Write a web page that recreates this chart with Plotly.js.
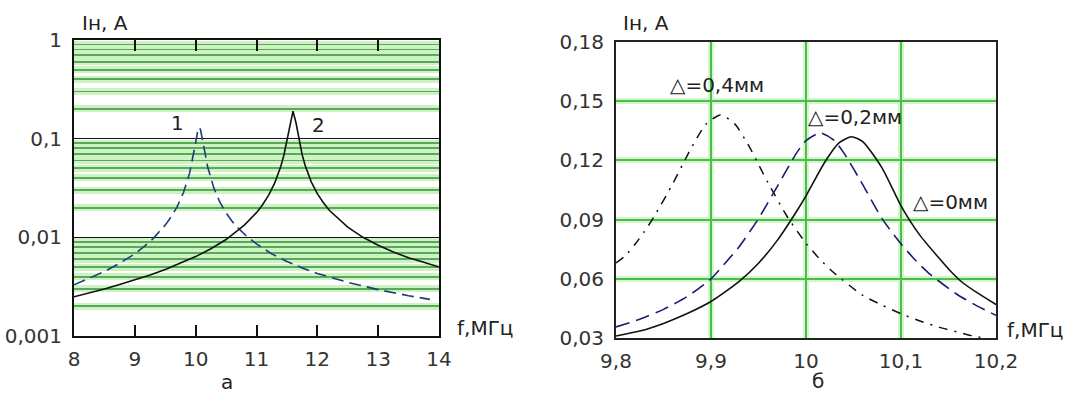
<!DOCTYPE html>
<html>
<head>
<meta charset="utf-8">
<script src="https://cdn.plot.ly/plotly-3.0.1.min.js"></script>
<style>html,body{margin:0;padding:0;background:#fff;}#chart{width:1071px;height:396px;}</style>
</head>
<body>
<div id="chart"></div>
<script>
// ---- Left chart (a): log scale, f 8..14 MHz
const leftXTicks = [8, 9, 10, 11, 12, 13, 14];
const leftYTicks = [0.001, 0.01, 0.1, 1];
const leftYTickText = ['0,001', '0,01', '0,1', '1'];
const leftYMinor = [0.002,0.003,0.004,0.005,0.006,0.007,0.008,0.009,
                    0.02,0.03,0.04,0.05,0.06,0.07,0.08,0.09,
                    0.2,0.3,0.4,0.5,0.6,0.7,0.8,0.9];

// curve 1 (dashed)
const c1X = [8, 8.25, 8.5, 8.75, 9, 9.15, 9.3, 9.5, 9.6, 9.7, 9.8, 9.9, 9.95, 9.98, 10, 10.03, 10.045, 10.06, 10.08, 10.1, 10.12, 10.15, 10.2, 10.3, 10.4, 10.5, 10.6, 10.7, 10.85, 11, 11.25, 11.5, 11.75, 12, 12.25, 12.5, 13, 13.25, 13.5, 13.85];
const c1Y = [0.0033, 0.00383, 0.0045, 0.00546, 0.0068, 0.00804, 0.0097, 0.0133, 0.0162, 0.0207, 0.0285, 0.0447, 0.0613, 0.077, 0.091, 0.116, 0.126, 0.13, 0.123, 0.1075, 0.0914, 0.0718, 0.051, 0.0315, 0.0226, 0.0177, 0.0145, 0.0124, 0.0101, 0.0086, 0.0068, 0.0057, 0.0049, 0.0043, 0.00386, 0.0035, 0.00295, 0.00274, 0.00256, 0.00235];

// curve 2 (solid)
const c2X = [8, 8.25, 8.5, 8.75, 9, 9.25, 9.5, 9.75, 10, 10.25, 10.5, 10.8, 11, 11.1, 11.2, 11.3, 11.35, 11.4, 11.45, 11.5, 11.55, 11.6, 11.65, 11.7, 11.75, 11.8, 11.85, 11.9, 12, 12.1, 12.2, 12.5, 12.75, 13, 13.25, 13.5, 13.75, 14];
const c2Y = [0.0025, 0.00273, 0.003, 0.00333, 0.0037, 0.00416, 0.00472, 0.00544, 0.00638, 0.00766, 0.0095, 0.0133, 0.0178, 0.0214, 0.0268, 0.0356, 0.0425, 0.0526, 0.068, 0.0954, 0.144, 0.19, 0.144, 0.096, 0.0689, 0.0535, 0.0433, 0.0365, 0.0277, 0.0224, 0.0187, 0.0127, 0.0100, 0.0083, 0.0071, 0.0062, 0.0056, 0.0050];

// ---- Right chart (б): linear, f 9.8..10.2 MHz
const rightXTicks = [9.8, 9.9, 10.0, 10.1, 10.2];
const rightXTickText = ['9,8', '9,9', '10', '10,1', '10,2'];
const rightYTicks = [0.03, 0.06, 0.09, 0.12, 0.15, 0.18];
const rightYTickText = ['0,03', '0,06', '0,09', '0,12', '0,15', '0,18'];

// Δ = 0 mm (solid)
const d0X = [9.8, 9.825, 9.85, 9.875, 9.9, 9.91, 9.93, 9.95, 9.97, 9.99, 10.0, 10.02, 10.035, 10.048, 10.06, 10.08, 10.1, 10.12, 10.14, 10.15, 10.165, 10.18, 10.2];
const d0Y = [0.031, 0.0335, 0.0374, 0.0424, 0.0485, 0.0517, 0.0588, 0.0679, 0.0796, 0.0941, 0.102, 0.1193, 0.129, 0.132, 0.1294, 0.1162, 0.097, 0.082, 0.0705, 0.065, 0.058, 0.053, 0.047];

// Δ = 0.2 mm (dashed)
const d2X = [9.8, 9.825, 9.85, 9.875, 9.9, 9.915, 9.93, 9.95, 9.97, 9.99, 10.0, 10.015, 10.03, 10.04, 10.06, 10.08, 10.1, 10.115, 10.13, 10.16, 10.18, 10.2];
const d2Y = [0.0356, 0.0395, 0.0445, 0.051, 0.06, 0.068, 0.0765, 0.0905, 0.107, 0.1237, 0.13, 0.134, 0.13, 0.1237, 0.1075, 0.0905, 0.0777, 0.0695, 0.0625, 0.0518, 0.0463, 0.0415];

// Δ = 0.4 mm (dash-dot)
const d4X = [9.8, 9.81, 9.82, 9.83, 9.84, 9.86, 9.87, 9.88, 9.895, 9.91, 9.925, 9.94, 9.95, 9.96, 9.98, 10.0, 10.015, 10.03, 10.06, 10.08, 10.1, 10.12, 10.14, 10.17, 10.2];
const d4Y = [0.068, 0.0718, 0.0775, 0.084, 0.0914, 0.1084, 0.1178, 0.127, 0.1385, 0.143, 0.1385, 0.1272, 0.118, 0.1087, 0.0917, 0.078, 0.0697, 0.0628, 0.0515, 0.0467, 0.0423, 0.0386, 0.0355, 0.0317, 0.0286];

const FONT = 'DejaVu Sans, Arial, sans-serif';
const tickFont = {family: FONT, size: 20, color: '#333'};

const traces = [
  {x: c1X, y: c1Y, xaxis: 'x', yaxis: 'y', mode: 'lines', line: {color: '#1f3c78', width: 1.6, dash: '12px,6px'}, hoverinfo: 'skip'},
  {x: c2X, y: c2Y, xaxis: 'x', yaxis: 'y', mode: 'lines', line: {color: '#111', width: 1.6}, hoverinfo: 'skip'},
  // helper trace so the overlay grid axis exists (single point, no visible mark)
  {x: [leftXTicks[0]], y: [leftYTicks[0]], xaxis: 'x', yaxis: 'y3', mode: 'lines', hoverinfo: 'skip', line: {width: 0}},
  {x: d4X, y: d4Y, xaxis: 'x2', yaxis: 'y2', mode: 'lines', line: {color: '#111', width: 1.5, dash: '9px,7px,2px,7px', shape: 'spline', smoothing: 0.6}, hoverinfo: 'skip'},
  {x: d2X, y: d2Y, xaxis: 'x2', yaxis: 'y2', mode: 'lines', line: {color: '#1c1c70', width: 1.6, dash: '14px,7px', shape: 'spline', smoothing: 0.6}, hoverinfo: 'skip'},
  {x: d0X, y: d0Y, xaxis: 'x2', yaxis: 'y2', mode: 'lines', line: {color: '#111', width: 1.6, shape: 'spline', smoothing: 0.6}, hoverinfo: 'skip'},
  {x: [rightXTicks[0]], y: [rightYTicks[0]], xaxis: 'x4', yaxis: 'y4', mode: 'lines', hoverinfo: 'skip', line: {width: 0}}
];

const ann = (text, x, y, xanchor, size) => ({text: text, x: x, y: y, xref: 'paper', yref: 'paper', xanchor: xanchor || 'left', yanchor: 'middle', showarrow: false, font: {family: FONT, size: size || 20, color: '#222'}});

const layout = {
  width: 1071, height: 396,
  margin: {l: 0, r: 0, t: 0, b: 0},
  paper_bgcolor: '#fff', plot_bgcolor: '#fff',
  showlegend: false,
  xaxis: {
    domain: [74/1071, 439/1071], anchor: 'y', range: [8, 14],
    tickmode: 'array', tickvals: leftXTicks, ticktext: leftXTicks.map(String),
    ticks: 'inside', ticklen: 11, tickwidth: 2, tickcolor: '#111',
    showline: true, linewidth: 2, linecolor: '#111', mirror: 'ticks',
    showgrid: false, zeroline: false, tickfont: tickFont, ticklabelstandoff: 4
  },
  yaxis: {
    domain: [(396-336)/396, (396-40)/396], anchor: 'x', type: 'log', range: [-3, 0],
    tickmode: 'array', tickvals: leftYTicks, ticktext: leftYTickText,
    ticks: '', showline: true, linewidth: 2, linecolor: '#111', mirror: true,
    showgrid: true, gridcolor: '#111', gridwidth: 1.5, zeroline: false,
    tickfont: tickFont, ticklabelstandoff: 6,
    minor: {tickmode: 'array', tickvals: leftYMinor, showgrid: true, gridcolor: '#cdf3c4', gridwidth: 7, ticks: ''}
  },
  yaxis3: {
    overlaying: 'y', anchor: 'x', type: 'log', range: [-3, 0],
    tickmode: 'array', tickvals: leftYMinor, showticklabels: false, ticks: '',
    showgrid: true, gridcolor: '#58aa58', gridwidth: 1.8, showline: false, zeroline: false
  },
  xaxis2: {
    domain: [616/1071, 996/1071], anchor: 'y2', range: [9.8, 10.2],
    tickmode: 'array', tickvals: rightXTicks, ticktext: rightXTickText,
    ticks: '', showline: true, linewidth: 2, linecolor: '#222', mirror: true,
    showgrid: true, gridcolor: '#48c048', gridwidth: 2, zeroline: false,
    tickfont: tickFont, ticklabelstandoff: 4
  },
  yaxis2: {
    domain: [(396-338)/396, (396-42)/396], anchor: 'x2', range: [0.03, 0.18],
    tickmode: 'array', tickvals: rightYTicks, ticktext: rightYTickText,
    ticks: '', showline: true, linewidth: 2, linecolor: '#222', mirror: true,
    showgrid: true, gridcolor: '#48c048', gridwidth: 2, zeroline: false,
    tickfont: tickFont, ticklabelstandoff: 6
  },
  xaxis4: {
    overlaying: 'x2', anchor: 'y2', range: [9.8, 10.2],
    tickmode: 'array', tickvals: [9.0], showticklabels: false, ticks: '',
    showgrid: false, showline: false, zeroline: false,
    minor: {tickmode: 'array', tickvals: rightXTicks, showgrid: true, gridcolor: '#d6f5cf', gridwidth: 6, ticks: ''}
  },
  yaxis4: {
    overlaying: 'y2', anchor: 'x2', range: [0.03, 0.18],
    tickmode: 'array', tickvals: [0.0], showticklabels: false, ticks: '',
    showgrid: false, showline: false, zeroline: false,
    minor: {tickmode: 'array', tickvals: rightYTicks, showgrid: true, gridcolor: '#d6f5cf', gridwidth: 6, ticks: ''}
  },
  annotations: [
    ann('Iн, A', 80/1071, 1 - 23/396),
    ann('1', 177/1071, 1 - 123/396, 'center'),
    ann('2', 318/1071, 1 - 125/396, 'center'),
    ann('f,МГц', 455/1071, 1 - 328/396),
    ann('а', 227/1071, 1 - 382/396, 'center'),
    ann('Iн, A', 621/1071, 1 - 23/396),
    ann('f,МГц', 1005/1071, 1 - 330/396),
    ann('б', 818/1071, 1 - 381/396, 'center'),
    ann('△=0,4мм', 668/1071, 1 - 85/396),
    ann('△=0,2мм', 806/1071, 1 - 117/396),
    ann('△=0мм', 911/1071, 1 - 202/396)
  ]
};

Plotly.newPlot('chart', traces, layout, {staticPlot: true, displayModeBar: false});
</script>
</body>
</html>
